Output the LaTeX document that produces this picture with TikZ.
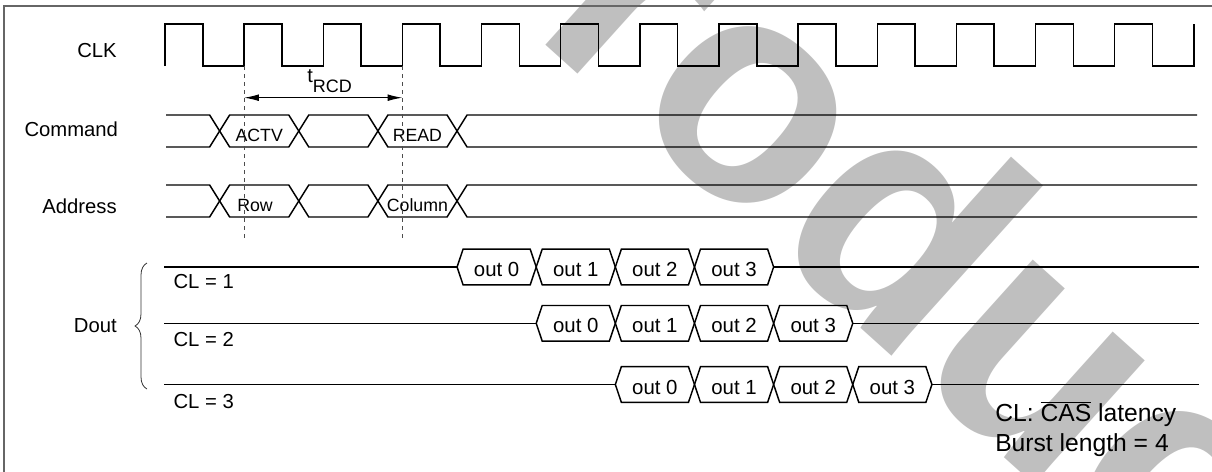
\documentclass[tikz,border=0pt]{standalone}
\usepackage{fontspec}
\setmainfont{Liberation Sans}
\usetikzlibrary{arrows.meta,decorations.pathreplacing}

\begin{document}
\begin{tikzpicture}
	[
		x=0.75pt, y=-0.75pt,
		wire/.style    = {draw=black, line width=1.1pt, line join=miter},
		guide/.style   = {draw=black!70, line width=0.8pt, dash pattern=on 3pt off 3pt},
		signame/.style = {anchor=base east, inner sep=0pt, font=\fontsize{15.2}{18}\selectfont},
		bustxt/.style  = {anchor=base, inner sep=0pt, font=\fontsize{13.3}{16}\selectfont},
		outtxt/.style  = {anchor=base, inner sep=0pt, font=\fontsize{15.3}{18}\selectfont},
		cltxt/.style   = {anchor=base west, inner sep=0pt, font=\fontsize{15.2}{18}\selectfont},
		note/.style    = {anchor=base west, inner sep=0pt, font=\fontsize{18.5}{22}\selectfont},
		wmark/.style   = {rotate=-42, inner sep=0pt, text=black!25,
			font=\fontsize{236}{236}\selectfont\bfseries},
	]

	\useasboundingbox (0,0) rectangle (1212,471);
	\clip (0,0) rectangle (1212,471);

	% watermark
	\node[wmark, anchor=center]    (wo) at ( 748, 115 ) {o};
	\node[wmark, anchor=base east] (wa) at (wo.base west) {Pr};
	\node[wmark, anchor=base west] (wb) at (wo.base east) {duct};

	% frame
	\draw[black!60, line width=1.2pt] (4,480) -- (4,6) -- (1220,6);

	% signal names
	\node[signame] (clk)  at ( 117.0,  57.3 ) {CLK};
	\node[signame] (cmd)  at ( 118.3, 136.0 ) {Command};
	\node[signame] (addr) at ( 117.0, 213.0 ) {Address};
	\node[signame] (dout) at ( 117.0, 332.7 ) {Dout};

	% clock
	\draw[wire] (165,66) \foreach \k in {0,...,12} {
		-- ++(0,-42) -- ++(37.8,0) -- ++(0,42) -- ++(41.34,0) } -- ++(0,-42);

	% command and address buses
	\foreach \yc in {131,201} {
		\pgfmathsetmacro\ta{140.5+1*79.14}
		\pgfmathsetmacro\tb{140.5+4*79.14}
		\draw[wire] (166,\yc-16) -- (\ta-10,\yc-16) -- (\ta,\yc) -- (\ta-10,\yc+16) -- (166,\yc+16);
		\draw[wire] (1197,\yc-16) -- (\tb+10,\yc-16) -- (\tb,\yc) -- (\tb+10,\yc+16) -- (1197,\yc+16);
		\foreach \k in {1,2,3} {
			\pgfmathsetmacro\xa{140.5+\k*79.14}
			\pgfmathsetmacro\xb{\xa+79.14}
			\draw[wire] (\xa,\yc) -- (\xa+10,\yc-16) -- (\xb-10,\yc-16) -- (\xb,\yc)
				-- (\xb-10,\yc+16) -- (\xa+10,\yc+16) -- cycle;
		}
	}
	\node[bustxt] (actv) at ( 259.2, 141.7 ) {ACTV};
	\node[bustxt] (read) at ( 417.4, 141.7 ) {READ};
	\node[bustxt] (row)  at ( 255.0, 211.0 ) {Row};
	\node[bustxt] (col)  at ( 417.4, 211.0 ) {Column};

	% tRCD
	\coordinate (g1) at (244.1,66);
	\coordinate (g3) at (402.4,66);
	\coordinate (g1e) at (244.1,238);
	\coordinate (g3e) at (402.4,238);
	\coordinate (a1) at (244.1,97.7);
	\coordinate (a3) at (402.4,97.7);
	\draw[guide] (g1) -- (g1e);
	\draw[guide] (g3) -- (g3e);
	\draw[line width=0.8pt, {Latex[length=11pt,width=5pt]}-{Latex[length=11pt,width=5pt]}] (a1) -- (a3);
	\node[anchor=base west, inner sep=0pt, font=\fontsize{15}{18}\selectfont] (trcd) at (307,82)
		{t\raisebox{-8.2pt}{\fontsize{13.5}{16}\selectfont RCD}};

	% Dout bursts
	\foreach \row/\yc/\k in {1/267/4, 2/323.3/5, 3/384.5/6} {
		\pgfmathsetmacro\ta{140.5+\k*79.14}
		\pgfmathsetmacro\tb{140.5+(\k+4)*79.14}
		\draw[wire] (164,\yc) -- (\ta,\yc);
		\draw[wire] (\tb,\yc) -- (1199,\yc);
		\foreach \i in {0,...,3} {
			\pgfmathsetmacro\xa{140.5+(\k+\i)*79.14}
			\pgfmathsetmacro\xb{\xa+79.14}
			\draw[wire] (\xa,\yc) -- (\xa+6,\yc-17.8) -- (\xb-6,\yc-17.8) -- (\xb,\yc)
				-- (\xb-6,\yc+17.8) -- (\xa+6,\yc+17.8) -- cycle;
			\node[outtxt] (d\row\i) at ({\xa+39.57},\yc+9.5) {out \i};
		}
	}
	\node[cltxt] (cl1) at ( 173.3, 288.3 ) {CL = 1};
	\node[cltxt] (cl2) at ( 173.3, 346.7 ) {CL = 2};
	\node[cltxt] (cl3) at ( 173.3, 408.3 ) {CL = 3};

	% brace
	\coordinate (bl) at (147,389);
	\coordinate (bu) at (147,263);
	\draw[black!80, line width=0.6pt, decorate, decoration={brace, amplitude=9pt}] (bl) -- (bu);

	% note
	\node[note] (lat)   at ( 995, 421.7 ) {CL: $\overline{\mbox{CAS}}$ latency};
	\node[note] (burst) at ( 995, 451.7 ) {Burst length = 4};

\end{tikzpicture}
\end{document}
